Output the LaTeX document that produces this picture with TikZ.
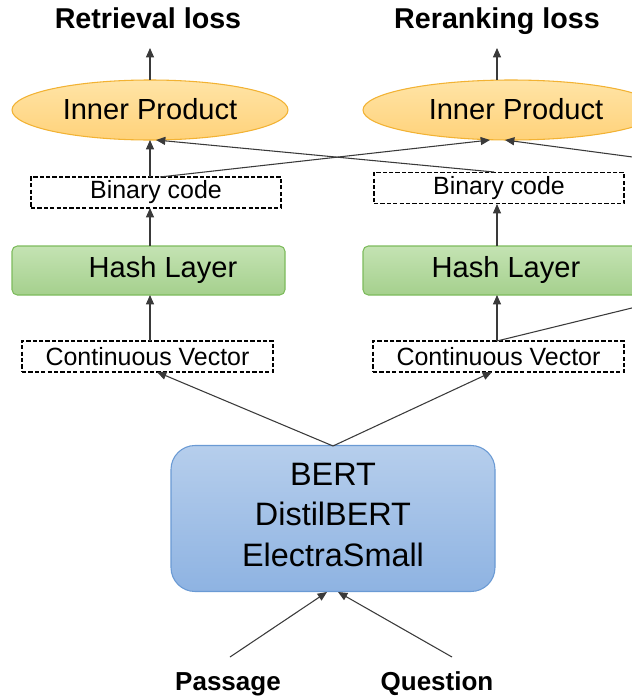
\documentclass[tikz,border=0pt]{standalone}
\usepackage{fontspec}
\setmainfont{Liberation Sans}
\usetikzlibrary{arrows.meta,shapes.geometric}
\definecolor{lineC}{HTML}{3A3A3A}
\definecolor{ellTop}{HTML}{FFE4A6}
\definecolor{ellBot}{HTML}{FFD27A}
\definecolor{ellBd}{HTML}{F2B233}
\definecolor{hashTop}{HTML}{C4E3B3}
\definecolor{hashBot}{HTML}{A5D08D}
\definecolor{hashBd}{HTML}{7DBB5C}
\definecolor{bertTop}{HTML}{B6CEEC}
\definecolor{bertBot}{HTML}{8EB3E2}
\definecolor{bertBd}{HTML}{6A9AD4}
\tikzset{
  arr/.style={draw=lineC, line width=0.8pt, -{Triangle[length=7pt,width=6pt]}},
  ln/.style={draw=lineC, line width=0.8pt},
  title/.style={font=\fontsize{21.5pt}{24pt}\selectfont\bfseries, inner sep=0pt, anchor=base},
  inp/.style={font=\fontsize{19.5pt}{22pt}\selectfont\bfseries, inner sep=0pt, anchor=base},
  ellnode/.style={ellipse, draw=ellBd, line width=0.8pt, top color=ellTop, bottom color=ellBot, minimum height=45pt, inner sep=0pt},
  dashbox/.style={draw=black, line width=1.1pt, dash pattern=on 3.2pt off 1.6pt, minimum width=187.5pt, minimum height=23.5pt, inner sep=0pt, font=\fontsize{18.7pt}{21pt}\selectfont},
  hashbox/.style={draw=hashBd, line width=0.8pt, rounded corners=4pt, top color=hashTop, bottom color=hashBot, minimum height=36.75pt, inner sep=0pt},
  bigtxt/.style={font=\fontsize{21.8pt}{26pt}\selectfont, inner sep=0pt},
}
\begin{document}
\begin{tikzpicture}[x=0.75pt,y=-0.75pt]
\useasboundingbox (0,0) rectangle (632,700);
\clip (0,0) rectangle (632,700);
% titles
\node[title] (tL) at (148,28) {Retrieval loss};
\node[title] (tR) at (497,28) {Reranking loss};
% ellipses
\node[ellnode, minimum width=207pt] (eL) at (150,110) {};
\node[bigtxt] (eLt) at (150,109) {Inner Product};
\node[ellnode, minimum width=222pt] (eR) at (511,110) {};
\node[bigtxt] (eRt) at (516,109) {Inner Product};
% binary code
\node[dashbox] (bL) at (156,192.5) {Binary code};
\node[dashbox] (bR) at (499,188) {Binary code};
% hash layers
\node[hashbox, minimum width=204.75pt] (hL) at (148.5,270.5) {};
\node[bigtxt] (hLt) at (163,269.5) {Hash Layer};
\node[hashbox, minimum width=208.5pt] (hR) at (502,270.5) {};
\node[bigtxt] (hRt) at (506,269.5) {Hash Layer};
% continuous vectors
\node[dashbox, minimum width=188.25pt] (cL) at (147.5,356.5) {Continuous Vector};
\node[dashbox, minimum width=188.25pt] (cR) at (498.5,356.5) {Continuous Vector};
% BERT
\node[draw=bertBd, line width=0.8pt, rounded corners=18pt, top color=bertTop, bottom color=bertBot, minimum width=243pt, minimum height=109.5pt, inner sep=0pt] (bert) at (333,518.5) {};
\node[font=\fontsize{24.3pt}{30.5pt}\selectfont, align=center, inner sep=0pt] (bertt) at (333,515) {BERT\\DistilBERT\\ElectraSmall};
% inputs
\node[inp] (pas) at (228,690) {Passage};
\node[inp] (que) at (437,690) {Question};
% coordinates
\coordinate (pS) at (230,657);
\coordinate (qS) at (452,657);
\coordinate (pT) at (327,592);
\coordinate (qT) at (338,592);
\coordinate (bertTopC) at (333,446);
\coordinate (cLb) at (157,372);
\coordinate (cRb) at (492,372);
\coordinate (offA) at (640,306);
\coordinate (offB) at (640,158);
\coordinate (tLa) at (150,48);
\coordinate (tRa) at (497,48);
% arrows
\draw[arr] (pS) -- (pT);
\draw[arr] (qS) -- (qT);
\draw[arr] (bertTopC) -- (cLb);
\draw[arr] (bertTopC) -- (cRb);
\draw[arr] (150,341) -- (150,295);
\draw[arr] (497,341) -- (497,295);
\draw[ln] (497,341) -- (offA);
\draw[arr] (150,246) -- (150,208);
\draw[arr] (497,246) -- (497,204);
\draw[arr] (150,177) -- (150,140);
\draw[arr] (160,177) -- (490,140);
\draw[arr] (494,172) -- (156,140);
\draw[arr] (offB) -- (505,140);
\draw[arr] (150,80) -- (tLa);
\draw[arr] (497,80) -- (tRa);
\end{tikzpicture}
\end{document}
